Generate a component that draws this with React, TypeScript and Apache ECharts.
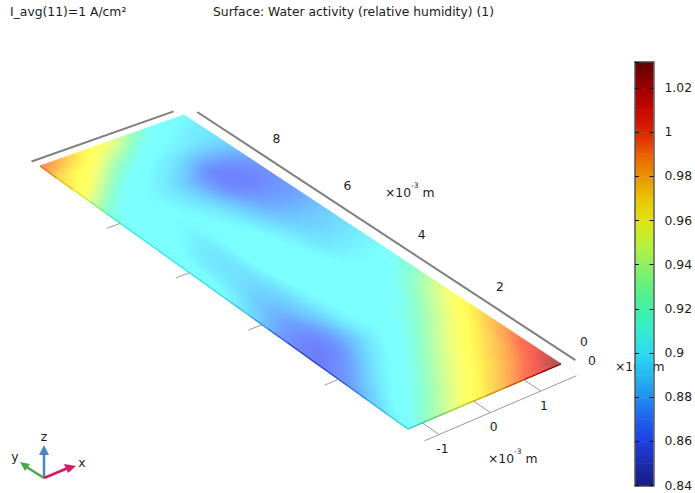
import React, { useEffect, useRef } from "react";
import * as echarts from "echarts";

const titleText = "Surface: Water activity (relative humidity) (1)";
const paramText = "I_avg(11)=1 A/cm²";

const xTicks = [-1, 0, 1];
const yTicks = [2, 4, 6, 8];
const xExtent = [-1.28, 1.75];
const yExtent = [0.27, 10.45];

const colorbarValues = [0.84, 0.85, 0.86, 0.87, 0.88, 0.89, 0.9, 0.91, 0.92, 0.93, 0.94, 0.95, 0.96, 0.97, 0.98, 0.99, 1, 1.01, 1.02, 1.0318];
const colorbarColors = ["#191a80", "#1c2cb0", "#2040e0", "#2060ee", "#2090f0", "#26b8f0", "#30d8f0", "#34ecd0", "#40f0a8", "#60f080", "#90f060", "#bcf038", "#dfe412", "#e8c400", "#e89400", "#e86000", "#dd2400", "#c40800", "#9c0000", "#5e0000"];

const colFractions = [0, 0.125, 0.25, 0.375, 0.5, 0.625, 0.75, 0.875, 1];
const rowFractions = [0, 0.05, 0.1, 0.15, 0.2, 0.25, 0.3, 0.35, 0.4, 0.45, 0.5, 0.55, 0.6, 0.65, 0.7, 0.75, 0.8, 0.85, 0.9, 0.95, 1];
const activity = [
  [0.9, 0.925, 0.942, 0.958, 0.971, 0.983, 0.997, 1.011, 1.03],
  [0.893, 0.908, 0.925, 0.942, 0.958, 0.971, 0.983, 0.997, 1.011],
  [0.88, 0.895, 0.908, 0.926, 0.943, 0.958, 0.972, 0.984, 0.998],
  [0.868, 0.882, 0.897, 0.909, 0.927, 0.944, 0.959, 0.972, 0.985],
  [0.858, 0.868, 0.884, 0.898, 0.909, 0.927, 0.944, 0.959, 0.973],
  [0.855, 0.858, 0.874, 0.891, 0.902, 0.912, 0.928, 0.945, 0.96],
  [0.864, 0.862, 0.875, 0.893, 0.904, 0.908, 0.912, 0.93, 0.945],
  [0.876, 0.871, 0.881, 0.895, 0.905, 0.906, 0.906, 0.914, 0.928],
  [0.886, 0.878, 0.884, 0.897, 0.906, 0.906, 0.902, 0.904, 0.914],
  [0.895, 0.885, 0.886, 0.9, 0.908, 0.905, 0.898, 0.897, 0.9],
  [0.902, 0.89, 0.889, 0.902, 0.907, 0.9, 0.892, 0.891, 0.893],
  [0.905, 0.892, 0.89, 0.903, 0.905, 0.897, 0.888, 0.885, 0.887],
  [0.906, 0.895, 0.891, 0.902, 0.902, 0.892, 0.883, 0.88, 0.881],
  [0.907, 0.9, 0.895, 0.9, 0.897, 0.886, 0.876, 0.873, 0.874],
  [0.908, 0.903, 0.899, 0.899, 0.892, 0.88, 0.869, 0.866, 0.868],
  [0.909, 0.906, 0.902, 0.896, 0.887, 0.873, 0.86, 0.859, 0.864],
  [0.922, 0.907, 0.901, 0.895, 0.886, 0.873, 0.86, 0.862, 0.868],
  [0.948, 0.928, 0.909, 0.9, 0.893, 0.885, 0.875, 0.875, 0.878],
  [0.968, 0.955, 0.934, 0.915, 0.902, 0.896, 0.891, 0.888, 0.888],
  [0.977, 0.968, 0.958, 0.94, 0.925, 0.907, 0.9, 0.895, 0.892],
  [0.995, 0.985, 0.972, 0.962, 0.948, 0.93, 0.91, 0.902, 0.898],
];

function hexRgb(hex: string) {
  return [1, 3, 5].map((i) => parseInt(hex.slice(i, i + 2), 16));
}
function mapRgb(v: number) {
  const n = colorbarValues.length;
  if (v <= colorbarValues[0]) return hexRgb(colorbarColors[0]);
  for (let i = 1; i < n; i++) {
    if (v <= colorbarValues[i]) {
      const t = (v - colorbarValues[i - 1]) / (colorbarValues[i] - colorbarValues[i - 1]);
      const a = hexRgb(colorbarColors[i - 1]);
      const b = hexRgb(colorbarColors[i]);
      return a.map((c, k) => c + (b[k] - c) * t);
    }
  }
  return hexRgb(colorbarColors[n - 1]);
}
const css = (c: number[]) => `rgb(${c.map((k) => Math.round(k)).join(",")})`;
const litColor = (v: number) => css(mapRgb(v).map((c) => Math.min(255, (c * 0.65 + 69) * 1.22)));

// view projection of the plane z = 0 (square to quad homography)
const D = [408, 429], C = [561, 364], B = [184, 115], A = [40, 166];
const dx1 = C[0] - B[0], dx2 = A[0] - B[0], sx = D[0] - C[0] + B[0] - A[0];
const dy1 = C[1] - B[1], dy2 = A[1] - B[1], sy = D[1] - C[1] + B[1] - A[1];
const den = dx1 * dy2 - dx2 * dy1;
const g = (sx * dy2 - dx2 * sy) / den;
const h = (dx1 * sy - sx * dy1) / den;
const a = C[0] - D[0] + g * C[0], b = A[0] - D[0] + h * A[0];
const d = C[1] - D[1] + g * C[1], e = A[1] - D[1] + h * A[1];
function fromFractions(s: number, t: number) {
  const w = g * s + h * t + 1;
  return [(a * s + b * t + D[0]) / w, (d * s + e * t + D[1]) / w];
}
function project(x: number, y: number) {
  return fromFractions((x - xExtent[0]) / (xExtent[1] - xExtent[0]), (y - yExtent[0]) / (yExtent[1] - yExtent[0]));
}

// smooth shading between the read values (render-time only)
const SUB = 6;
function cubic(p0: number, p1: number, p2: number, p3: number, t: number) {
  return p1 + 0.5 * t * (p2 - p0 + t * (2 * p0 - 5 * p1 + 4 * p2 - p3 + t * (3 * (p1 - p2) + p3 - p0)));
}
function rowAt(r: number, col: number, fs: number) {
  const row = activity[Math.max(0, Math.min(activity.length - 1, r))];
  const at = (i: number) => row[Math.max(0, Math.min(row.length - 1, i))];
  return cubic(at(col - 1), at(col), at(col + 1), at(col + 2), fs);
}
function field(col: number, row: number, fs: number, ft: number) {
  return cubic(rowAt(row - 1, col, fs), rowAt(row, col, fs), rowAt(row + 1, col, fs), rowAt(row + 2, col, fs), ft);
}

const cellData: number[][] = [];
for (let r = 0; r < rowFractions.length - 1; r++) for (let c = 0; c < colFractions.length - 1; c++) cellData.push([c, r]);

const axisY0 = yExtent[0] - 0.4;
const axisX1 = xExtent[1] + 0.25;
const segments: number[][] = [
  [-1.28, axisY0, 1.72, axisY0, 1],
  [xExtent[0] - 0.03, yExtent[1] + 0.22, xExtent[1] - 0.07, yExtent[1] + 0.22, 2],
  [axisX1, yExtent[1] - 0.05, axisX1, yExtent[0] - 0.05, 2],
  ...xTicks.map((x) => [x, yExtent[0], x, axisY0, 1]),
  ...yTicks.map((y) => [xExtent[0], y, xExtent[0] - 0.27, y, 1]),
];

const fontFamily = "'DejaVu Sans'";
const label = (text: string, x: number, y: number, extra: any = {}) => ({
  type: "text",
  z: 1,
  silent: true,
  style: { text, x, y, font: `12.35px ${fontFamily}`, fill: "#1a1a1a", align: "center", verticalAlign: "middle", ...extra },
});
const unitLabel = (x: number, y: number) => ({
  type: "text",
  z: 1,
  silent: true,
  style: {
    text: "{n|×10}{s|-3}{n| m}",
    x,
    y,
    align: "left",
    verticalAlign: "middle",
    rich: {
      n: { fontFamily: "DejaVu Sans", fontSize: 12.35, lineHeight: 17, fill: "#1a1a1a", verticalAlign: "bottom" },
      s: { fontFamily: "DejaVu Sans", fontSize: 7.5, lineHeight: 8, fill: "#1a1a1a", verticalAlign: "top" },
    },
  },
});
const seg = (x1: number, y1: number, x2: number, y2: number, stroke: string, lineWidth: number) => ({
  type: "line",
  silent: true,
  shape: { x1, y1, x2, y2 },
  style: { stroke, lineWidth },
});
const head = (points: number[][], fill: string) => ({ type: "polygon", silent: true, shape: { points }, style: { fill } });

export default function App() {
  const ref = useRef<HTMLDivElement>(null);
  useEffect(() => {
    const chart = echarts.init(ref.current!, undefined, { renderer: "svg" });
    chart.setOption({
      animation: false,
      backgroundColor: "#fff",
      grid: [
        { left: 0, top: 0, width: 695, height: 493 },
        { left: 635, top: 62, width: 20, height: 423.5 },
      ],
      xAxis: [
        { gridIndex: 0, type: "value", min: 0, max: 695, show: false },
        { gridIndex: 1, type: "value", min: 0, max: 1, position: "bottom", axisLabel: { show: false }, axisTick: { show: false }, splitLine: { show: false }, axisLine: { onZero: false, lineStyle: { color: "#444", width: 1.5 } }, z: 12 },
        { gridIndex: 1, type: "value", min: 0, max: 1, position: "top", axisLabel: { show: false }, axisTick: { show: false }, splitLine: { show: false }, axisLine: { onZero: false, lineStyle: { color: "#444", width: 1.5 } }, z: 12 },
      ],
      yAxis: [
        { gridIndex: 0, type: "value", min: 0, max: 493, inverse: true, show: false },
        {
          gridIndex: 1, type: "value", min: 0.84, max: 1.0318, interval: 0.02, position: "right", z: 12,
          splitLine: { show: false },
          axisLine: { onZero: false, lineStyle: { color: "#555", width: 1.5 } },
          axisTick: { inside: true, length: 4, lineStyle: { color: "#111" } },
          axisLabel: { showMaxLabel: false, margin: 11, color: "#1a1a1a", fontSize: 12.35, fontFamily: "DejaVu Sans", formatter: (v: number) => String(+v.toFixed(2)) },
        },
        {
          gridIndex: 1, type: "value", min: 0.84, max: 1.0318, interval: 0.02, position: "left", z: 12,
          splitLine: { show: false },
          axisLine: { onZero: false, lineStyle: { color: "#555", width: 1.5 } },
          axisTick: { inside: true, length: 4, lineStyle: { color: "#111" } },
          axisLabel: { show: false },
        },
      ],
      series: [
        {
          type: "custom",
          name: "Water activity",
          xAxisIndex: 0,
          yAxisIndex: 0,
          silent: true,
          clip: false,
          z: 2,
          data: cellData,
          renderItem: (params: any, api: any) => {
            const col = api.value(0), row = api.value(1);
            const s0 = colFractions[col], s1 = colFractions[col + 1];
            const t0 = rowFractions[row], t1 = rowFractions[row + 1];
            const children: any[] = [];
            for (let i = 0; i < SUB; i++) {
              for (let j = 0; j < SUB; j++) {
                const fa = i / SUB, fb = (i + 1) / SUB, ta = j / SUB, tb = (j + 1) / SUB;
                const pts = [[fa, ta], [fb, ta], [fb, tb], [fa, tb]].map(([u, v]) =>
                  api.coord(fromFractions(s0 + (s1 - s0) * u, t0 + (t1 - t0) * v))
                );
                const color = litColor(field(col, row, (fa + fb) / 2, (ta + tb) / 2));
                children.push({ type: "polygon", shape: { points: pts }, style: { fill: color, stroke: color, lineWidth: 1 } });
              }
            }
            if (row === 0) {
              const p0 = api.coord(fromFractions(s0, 0));
              const p1 = api.coord(fromFractions(s1, 0));
              const col0 = css(mapRgb((activity[0][col] + activity[0][col + 1]) / 2).map((c) => c * 0.85));
              children.push({ type: "line", shape: { x1: p0[0], y1: p0[1], x2: p1[0], y2: p1[1] }, style: { stroke: col0, lineWidth: 1.3 }, z2: 5 });
            }
            if (col === 0) {
              const p0 = api.coord(fromFractions(0, t0));
              const p1 = api.coord(fromFractions(0, t1));
              const col0 = css(mapRgb((activity[row][0] + activity[row + 1][0]) / 2));
              children.push({ type: "line", shape: { x1: p0[0], y1: p0[1], x2: p1[0], y2: p1[1] }, style: { stroke: col0, lineWidth: 1.2 }, z2: 5 });
            }
            return { type: "group", children };
          },
        },
        {
          type: "custom",
          name: "Axes",
          xAxisIndex: 0,
          yAxisIndex: 0,
          silent: true,
          clip: false,
          z: 3,
          data: segments,
          renderItem: (params: any, api: any) => {
            const p0 = api.coord(project(api.value(0), api.value(1)));
            const p1 = api.coord(project(api.value(2), api.value(3)));
            const w = api.value(4);
            return { type: "line", shape: { x1: p0[0], y1: p0[1], x2: p1[0], y2: p1[1] }, style: { stroke: w > 1 ? "#808080" : "#9a9a9a", lineWidth: w } };
          },
        },
        {
          type: "custom",
          name: "Colorbar",
          xAxisIndex: 1,
          yAxisIndex: 1,
          silent: true,
          clip: false,
          z: 10,
          data: colorbarValues.slice(0, -1).map((v, i) => [v, colorbarValues[i + 1], i]),
          renderItem: (params: any, api: any) => {
            const p0 = api.coord([0, api.value(0)]);
            const p1 = api.coord([1, api.value(1)]);
            const i = api.value(2);
            return {
              type: "rect",
              shape: { x: p0[0], y: p1[1], width: p1[0] - p0[0], height: p0[1] - p1[1] + 0.5 },
              style: {
                fill: {
                  type: "linear", x: 0, y: 1, x2: 0, y2: 0,
                  colorStops: [
                    { offset: 0, color: colorbarColors[i] },
                    { offset: 1, color: colorbarColors[i + 1] },
                  ],
                },
              },
            };
          },
        },
      ],
      graphic: [
        label(paramText, 10, 12, { align: "left" }),
        label(titleText, 213, 12, { align: "left" }),
        ...yTicks.map((y) => {
          const p = project(xExtent[1], y);
          return label(String(y), p[0] + 10, p[1] - 30);
        }),
        ...xTicks.map((x) => {
          const p = project(x, yExtent[0]);
          return label(String(x), p[0] + 20, p[1] + 26);
        }),
        label("0", 584, 342),
        label("0", 592, 361),
        unitLabel(385, 190),
        unitLabel(488, 456),
        unitLabel(615, 364),
        seg(44, 478, 44, 452, "#4a86c4", 2.5),
        head([[39, 455], [49, 455], [44, 445]], "#4a86c4"),
        seg(44, 478, 25, 466, "#4ca64c", 2.5),
        head([[20, 462], [30, 464], [25, 471]], "#4ca64c"),
        seg(44, 478, 68, 468, "#d81b60", 2.5),
        head([[76, 466], [64, 464], [68, 473]], "#d81b60"),
        label("z", 44, 437),
        label("y", 15, 457),
        label("x", 82, 463),
      ],
    });
    return () => chart.dispose();
  }, []);
  return <div ref={ref} style={{ position: "fixed", left: 0, top: 0, width: 695, height: 493 }} />;
}
